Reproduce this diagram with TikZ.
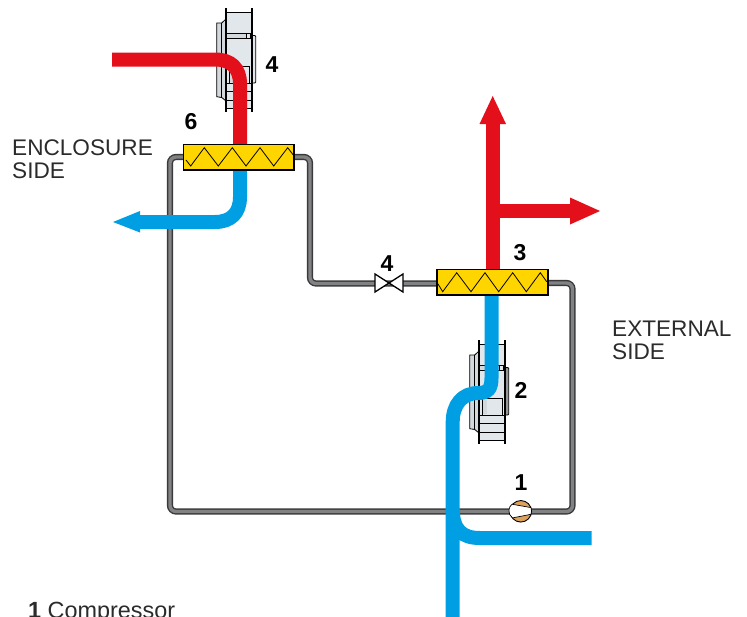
\documentclass[tikz,border=0pt]{standalone}
\usepackage{fontspec}
\setmainfont{Liberation Sans}
\usetikzlibrary{backgrounds}
\definecolor{pipeblue}{HTML}{009FE3}
\definecolor{pipered}{HTML}{E30F1B}
\definecolor{hxyellow}{HTML}{FFD500}
\definecolor{loopgrey}{HTML}{808284}
\definecolor{loopdark}{HTML}{3A3A3C}
\definecolor{fanlight}{HTML}{E2E7EB}
\definecolor{fanmid}{HTML}{D3D8DC}
\definecolor{pumptan}{HTML}{DDA15E}
\definecolor{labelgrey}{HTML}{2B2B2B}
\tikzset{
  hxbox/.style={draw=black,line width=1.6pt,fill=hxyellow,minimum width=110pt,minimum height=25.5pt,inner sep=0pt,outer sep=0pt},
  zig/.style={draw=black,line width=0.8pt,line join=miter},
  bluepipe/.style={draw=pipeblue,line width=14pt},
  redpipe/.style={draw=pipered,line width=14pt},
  loopouter/.style={draw=loopdark,line width=6.2pt,rounded corners=6pt},
  loopinner/.style={draw=loopgrey,line width=3.4pt,rounded corners=6pt},
  numlabel/.style={font=\fontsize{23pt}{25pt}\selectfont\bfseries,text=black,inner sep=0pt},
  sidelabel/.style={font=\fontsize{22.6pt}{23pt}\selectfont,text=labelgrey,inner sep=0pt,anchor=base west,align=left},
  legendlabel/.style={font=\fontsize{23.4pt}{25pt}\selectfont,text=labelgrey,inner sep=0pt,anchor=base west},
  fanline/.style={draw=black,line width=0.8pt},
  fanrail/.style={draw=black,line width=1.4pt},
}
\newcommand{\fanunit}[3]{%
  \begin{scope}[shift={(#1,#2)}]
    \fill[fanlight] (226,12) rectangle (252,108);
    \filldraw[fill=fanmid,draw=black,line width=0.8pt] (216.7,23)--(221.7,23)--(226,19)--(226,101)--(221.7,97.5)--(216.7,96.7)--cycle;
    \draw[fanline] (221.7,23)--(221.7,97.5);
    \filldraw[fill=#3,draw=black,line width=0.8pt,rounded corners=1pt] (252,35.5) -- (255.7,35.5) -- (255.7,83) -- (252,83);
    \filldraw[fill=fanmid,fanline] (226,33) rectangle (252,38);
    \filldraw[fill=fanlight,fanline] (246,33) rectangle (250,38);
    \filldraw[fill=fanlight,fanline] (229,66.5) rectangle (249,83);
    \fill[fanmid] (230,68) rectangle (234,82);
    \foreach \gy in {12,83,91.5,100,108}{\draw[fanline] (226,\gy)--(252,\gy);}
    \draw[fanrail] (226,8)--(226,112);
    \draw[fanrail] (252,8)--(252,112);
  \end{scope}}
\begin{document}
\begin{tikzpicture}[x=1pt,y=-1pt]
\useasboundingbox (0,0) rectangle (747,616);
% main components
\node[hxbox,minimum width=110.5pt] (hxsix) at (238.7,157.3) {};
\node[hxbox,minimum width=111pt] (hxthree) at (492.2,282.2) {};
\draw[zig] (186,160) -- (190.7,166) -- (204.3,147.7) -- (218.3,166) -- (232.3,147.7) -- (246,166) -- (260,147.7) -- (273.7,166) -- (287.7,147.7) -- (293.3,155);
\draw[zig] (437.7,283.5) -- (442.7,291.7) -- (456.7,272.7) -- (471,291.7) -- (485,272.7) -- (498.7,291.7) -- (512.7,272.7) -- (526.3,291.7) -- (540.3,272.7) -- (546.7,281.7);
\node[minimum width=28pt,minimum height=18pt,inner sep=0pt,outer sep=0pt] (valve) at (389,283) {};
\filldraw[fill=white,draw=black,line width=1.3pt,line join=miter] (valve.south west) -- (valve.north east) -- (valve.south east) -- (valve.north west) -- cycle;
\node[circle,draw=black,line width=0.9pt,fill=pumptan,minimum size=21.5pt,inner sep=0pt,outer sep=0pt] (pump) at (520.8,511.3) {};
\filldraw[fill=white,draw=black,line width=0.7pt] (pump.center) ++(-8.3,-7) -- ++(18.5,3.3) arc[start angle=-20,end angle=20,radius=9.8] -- ++(-18.5,3.6) arc[start angle=125,end angle=235,radius=8.6];
% numbers and texts
\node[numlabel] (nfanA) at (272,65) {4};
\node[numlabel] (nsix) at (191,122) {6};
\node[numlabel] (nvalve) at (387,264) {4};
\node[numlabel] (nthree) at (520,253) {3};
\node[numlabel] (nfanB) at (521,390) {2};
\node[numlabel] (npump) at (521,483) {1};
\node[sidelabel] (enclosure) at (12,178) {ENCLOSURE\\SIDE};
\node[sidelabel] (external) at (612,359) {EXTERNAL\\SIDE};
\node[legendlabel] (legend) at (28,618) {\textbf{1} Compressor};
\coordinate (redstart) at (112,59.5);
\coordinate (upjoint) at (492.7,211);
\coordinate (uptip) at (492.7,96);
\coordinate (righttip) at (600,211);
\coordinate (bluetip) at (113,222);
\coordinate (coldend) at (591.7,538);
\coordinate (coldbottom) at (452.7,620);
\begin{scope}[on background layer]
  % fans
  \fanunit{0}{0}{fanlight}
  \fanunit{253}{332}{loopgrey!85}
  % refrigerant loop
  \foreach \loopstyle in {loopouter,loopinner}{
    \draw[\loopstyle] (hxsix.west |- 0,157) -- (170,157) -- (170,511.5) -- (572.5,511.5) -- (572.5,283) -- (hxthree.east |- 0,283);
    \draw[\loopstyle] (hxsix.east |- 0,157) -- (310,157) -- (310,283.5) -- (hxthree.west |- 0,283.5);
  }
  % red air
  \draw[redpipe] (redstart) -- (215,59.5) .. controls (231,59.5) and (240,68) .. (240,84) -- (hxsix.north -| 240,0);
  \draw[redpipe] (hxthree.north -| upjoint) -- (492.7,120);
  \fill[pipered] (uptip) -- (506,124) -- (479.5,124) -- cycle;
  \draw[redpipe] (upjoint) -- (572,211);
  \fill[pipered] (righttip) -- (570,197.5) -- (570,224.5) -- cycle;
  % blue air
  \draw[bluepipe] (hxsix.south -| 240,0) -- (240,197) .. controls (240,213) and (231,222) .. (215,222) -- (136,222);
  \fill[pipeblue] (bluetip) -- (140,211) -- (140,232.5) -- cycle;
  \draw[bluepipe] (hxthree.south -| 491.5,0) -- (491.5,378) .. controls (491.5,389) and (488,393) .. (478,393) .. controls (462,393) and (452.7,405) .. (452.7,422) -- (coldbottom);
  \draw[bluepipe] (452.7,508) .. controls (452.7,530) and (462,538) .. (480,538) -- (coldend);
\end{scope}
\end{tikzpicture}
\end{document}
